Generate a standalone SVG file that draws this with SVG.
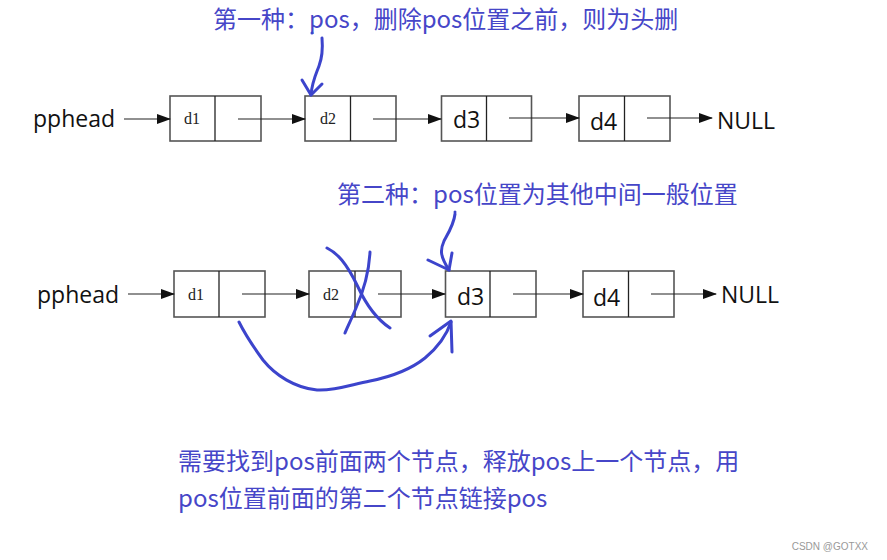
<svg xmlns="http://www.w3.org/2000/svg" width="887" height="560" viewBox="0 0 887 560">
<defs>
<marker id="ah" markerWidth="14" markerHeight="10" refX="13" refY="5" orient="auto" markerUnits="userSpaceOnUse">
<path d="M0,0 L14,5 L0,10 z" fill="#111"/>
</marker>
<style>
.box{fill:#fff;stroke:#555;stroke-width:1.6}
.div{stroke:#222;stroke-width:1.3}
.ptr{stroke:#222;stroke-width:1.2;fill:none;marker-end:url(#ah)}
.ser{font-family:"Liberation Serif","DejaVu Serif",serif;font-size:16px;fill:#222}
.san{font-family:"Open Sans","Noto Sans",sans-serif;font-size:23px;fill:#111}
.blue{font-family:"Noto Sans CJK SC","Noto Sans",sans-serif;font-size:24px;fill:#4646c8}
.ink{fill:none;stroke:#3c44cc;stroke-width:3;stroke-linecap:round;stroke-linejoin:round}
</style>
</defs>
<rect width="887" height="560" fill="#fff"/>
<text class="blue" x="213" y="28">第一种：pos，删除pos位置之前，则为头删</text>
<text class="blue" x="337" y="203">第二种：pos位置为其他中间一般位置</text>
<text class="blue" x="178" y="470">需要找到pos前面两个节点，释放pos上一个节点，用</text>
<text class="blue" x="178" y="507">pos位置前面的第二个节点链接pos</text>
<text x="868" y="550" text-anchor="end" font-family="Liberation Sans,sans-serif" font-size="10" fill="#999">CSDN @GOTXX</text>

<g id="row1-head"><text class="san" x="33" y="127">pphead</text></g>
<g id="row1-n1"><rect class="box" x="170" y="96" width="91" height="45"/><line class="div" x1="215" y1="96" x2="215" y2="141"/><text class="ser" x="184" y="124">d1</text></g>
<g id="row1-n2"><rect class="box" x="305" y="96" width="91" height="45"/><line class="div" x1="350.5" y1="96" x2="350.5" y2="141"/><text class="ser" x="320" y="124">d2</text></g>
<g id="row1-n3"><rect class="box" x="441.5" y="96" width="90" height="45"/><line class="div" x1="486.5" y1="96" x2="486.5" y2="141"/><text class="san" x="453" y="128">d3</text></g>
<g id="row1-n4"><rect class="box" x="579" y="96" width="91" height="45"/><line class="div" x1="624.5" y1="96" x2="624.5" y2="141"/><text class="san" x="590" y="130">d4</text></g>
<g id="row1-null"><text class="san" x="717" y="129">NULL</text></g>

<g id="row2-head"><text class="san" x="37" y="303">pphead</text></g>
<g id="row2-n1"><rect class="box" x="174" y="271" width="91" height="46"/><line class="div" x1="219" y1="271" x2="219" y2="317"/><text class="ser" x="188" y="300">d1</text></g>
<g id="row2-n2"><rect class="box" x="309" y="271" width="92" height="46"/><line class="div" x1="355" y1="271" x2="355" y2="317"/><text class="ser" x="323" y="300">d2</text></g>
<g id="row2-n3"><rect class="box" x="445.5" y="271" width="90.5" height="46"/><line class="div" x1="490" y1="271" x2="490" y2="317"/><text class="san" x="457" y="305">d3</text></g>
<g id="row2-n4"><rect class="box" x="583" y="271" width="91" height="46"/><line class="div" x1="628.5" y1="271" x2="628.5" y2="317"/><text class="san" x="593" y="306">d4</text></g>
<g id="row2-null"><text class="san" x="721" y="303">NULL</text></g>

<g id="connectors">
<line class="ptr" x1="124" y1="119" x2="170" y2="119"/>
<line class="ptr" x1="238" y1="119" x2="305" y2="119"/>
<line class="ptr" x1="373" y1="119" x2="441" y2="119"/>
<line class="ptr" x1="509" y1="118" x2="579" y2="118"/>
<line class="ptr" x1="647" y1="118" x2="712" y2="118"/>

<line class="ptr" x1="128" y1="294" x2="174" y2="294"/>
<line class="ptr" x1="242" y1="294" x2="309" y2="294"/>
<line class="ptr" x1="378" y1="294" x2="445" y2="294"/>
<line class="ptr" x1="513" y1="294" x2="583" y2="294"/>
<line class="ptr" x1="651" y1="294" x2="716" y2="294"/>
</g>

<g id="ink">
<circle cx="312" cy="33" r="1.5" fill="#3c44cc"/>
<path class="ink" d="M322,38 C323,50 322,58 319,66 C316,74 312,82 311,95"/>
<path class="ink" d="M302,80 L311,95 L322,84"/>
<circle cx="455" cy="212" r="1.5" fill="#3c44cc"/>
<path class="ink" d="M455,214 C454,224 449,232 444,241 C440,250 440,256 449,270"/>
<path class="ink" d="M428,260 L449,270 L452,253"/>
<path class="ink" d="M327,248 C337,253 346,262 358,287 C364,300 375,318 390,328"/>
<path class="ink" d="M370,252 C369,272 364,290 356,308 C351,320 347,328 345,333"/>
<path class="ink" d="M239,322 C244,332 252,345 263,360 C275,375 295,388 317,390 C335,391 350,385 370,381 C390,377 410,370 425,358 C437,348 446,337 451,322"/>
<path class="ink" d="M430,336 L451,321 L452,352"/>
</g>
</svg>
